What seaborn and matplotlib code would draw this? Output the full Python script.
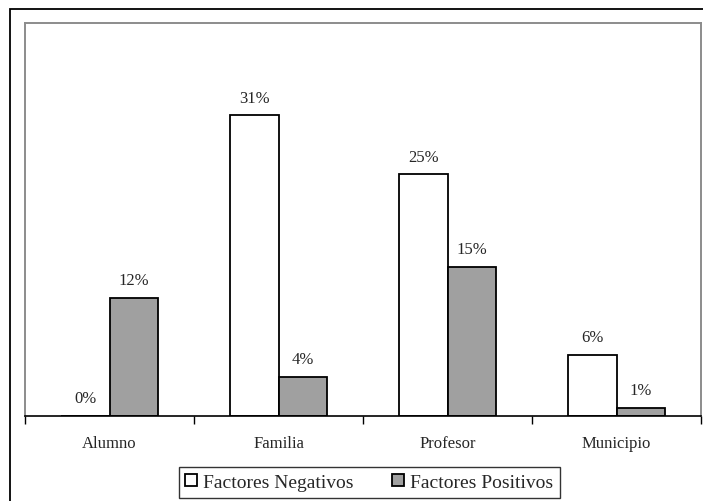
import pandas as pd
import numpy as np

import seaborn as sns
import matplotlib.pyplot as plt
from matplotlib.patches import Rectangle

# data (percent)
categorias = ["Alumno", "Familia", "Profesor", "Municipio"]
negativos = [0, 31.1, 25, 6.3]
positivos = [12.2, 4, 15.4, 0.8]
series = ["Factores Negativos", "Factores Positivos"]

df = pd.DataFrame({
    "categoria": categorias * 2,
    "valor": negativos + positivos,
    "serie": [series[0]] * 4 + [series[1]] * 4,
})

sns.set_style("white")
plt.rcParams["font.family"] = ["Liberation Serif", "DejaVu Serif"]

fig = plt.figure(figsize=(7.03, 5.02), dpi=100)
ax = fig.add_axes([0.0356, 0.170, 0.9616, 0.782])

sns.barplot(
    data=df,
    x="categoria",
    y="valor",
    hue="serie",
    palette={series[0]: "white", series[1]: "#a0a0a0"},
    edgecolor="black",
    linewidth=1.3,
    width=0.57,
    ax=ax,
    legend=True,
)

# value labels
for cont in ax.containers:
    labels = ["{:.0f}%".format(v) for v in cont.datavalues]
    ax.bar_label(cont, labels=labels, padding=7, fontsize=12)

ax.set_ylim(0, 40.65)
ax.set_xlim(-0.5, 3.5)
ax.set_xlabel("")
ax.set_ylabel("")
ax.set_yticks([])

# excel style: ticks on the category boundaries
ax.set_xticks(np.arange(4))
ax.set_xticklabels(categorias, fontsize=12)
ax.set_xticks(np.arange(-0.5, 4, 1), minor=True)
ax.tick_params(axis="x", which="major", length=0, pad=14)
ax.tick_params(axis="x", which="minor", length=6, width=1, color="black", bottom=True)

for side in ["left", "top", "right"]:
    ax.spines[side].set_color("#8c8c8c")
    ax.spines[side].set_linewidth(1.4)
ax.spines["bottom"].set_color("black")
ax.spines["bottom"].set_linewidth(1.2)

handles, labs = ax.get_legend_handles_labels()
ax.get_legend().remove()
leg = fig.legend(
    handles, labs,
    loc="upper center",
    bbox_to_anchor=(0.525, 0.068),
    ncol=2,
    fontsize=14,
    frameon=True,
    fancybox=False,
    edgecolor="black",
    handlelength=0.6,
    handleheight=0.6,
    handletextpad=0.3,
    columnspacing=2.0,
    borderpad=0.35,
    borderaxespad=0,
)
leg.get_frame().set_linewidth(1.0)

# outer chart frame
fig.patches.append(Rectangle((0.014, -0.05), 1.2, 1.03,
                             transform=fig.transFigure,
                             fill=False, edgecolor="black", linewidth=1.3))

fig.savefig("out.png", dpi=100)
